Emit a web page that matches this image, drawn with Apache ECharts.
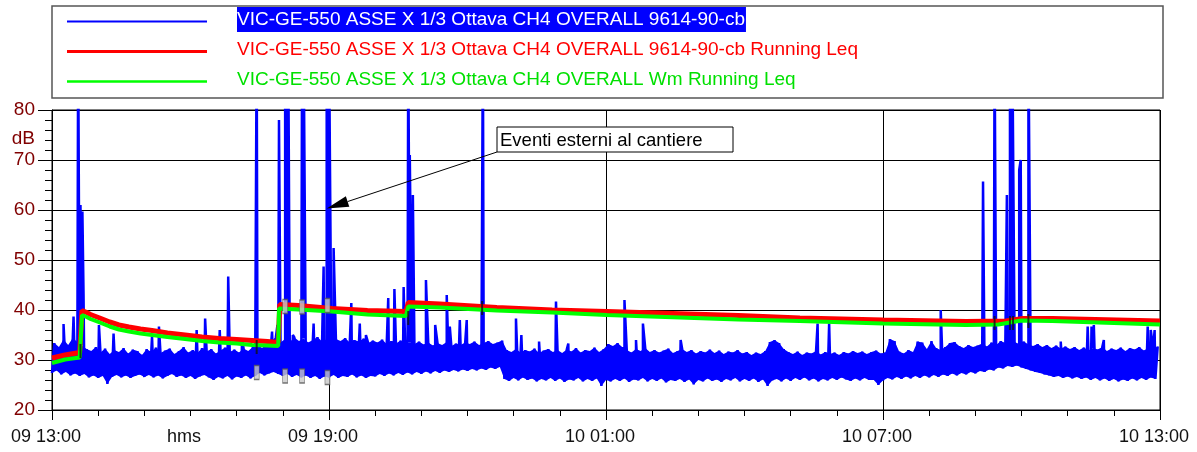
<!DOCTYPE html>
<html><head><meta charset="utf-8">
<script src="https://cdn.jsdelivr.net/npm/echarts@6/dist/echarts.min.js"></script>
<style>html,body{margin:0;padding:0;background:#fff}#c{width:1197px;height:452px}</style>
</head><body><div id="c"></div>
<script>
// ---------------- DATA ----------------
const seriesNames = [
  'VIC-GE-550 ASSE X 1/3 Ottava CH4 OVERALL 9614-90-cb',
  'VIC-GE-550 ASSE X 1/3 Ottava CH4 OVERALL 9614-90-cb Running Leq',
  'VIC-GE-550 ASSE X 1/3 Ottava CH4 OVERALL Wm Running Leq'
];
const xTickLabels = ['09 13:00', '09 19:00', '10 01:00', '10 07:00', '10 13:00'];
const xUnitLabel = 'hms';
const yUnitLabel = 'dB';
const annotationText = 'Eventi esterni al cantiere';
const annotationTarget = [357, 60.3]; // minutes from 09 13:00, dB

// Blue level: minutes from 09 13:00, read in 6-minute buckets (low / high of the noise band)
const bucketMinutes = 6;
const bandHigh = [
  33.4,32.6,34.1,33.0,34.4,33.6,32.9,32.2,31.8,32.6,
  31.5,32.3,31.2,32.0,31.6,32.4,31.3,32.1,31.8,31.0,
  32.2,31.6,32.5,31.4,31.9,32.3,31.2,31.8,32.6,31.5,
  32.0,31.4,32.4,31.7,32.2,31.3,31.9,32.5,31.6,32.1,
  31.5,32.3,31.8,32.6,33.0,32.4,33.2,33.8,34.6,33.5,
  34.2,33.6,34.5,33.8,34.3,33.5,34.0,34.6,33.7,34.1,
  33.6,34.2,33.8,34.4,33.5,34.0,33.7,34.3,33.4,33.9,
  33.5,34.1,33.2,33.8,33.3,33.9,33.0,33.6,33.2,33.7,
  33.1,33.5,32.9,33.4,33.0,33.6,32.8,33.3,33.0,33.5,
  33.2,33.7,33.0,33.4,33.8,33.2,33.5,33.9,32.0,31.6,
  32.2,31.5,32.0,31.7,32.3,31.4,31.9,32.2,31.6,32.0,
  31.4,32.1,31.7,32.4,31.5,32.0,31.8,32.5,31.6,32.2,
  33.2,32.8,33.4,32.6,32.0,31.5,32.2,31.8,32.4,31.6,
  32.0,31.5,31.9,32.3,31.4,31.8,32.2,31.6,32.0,31.3,
  31.8,31.5,32.1,31.4,31.9,31.2,31.7,31.5,32.0,31.3,
  31.6,31.0,31.5,31.2,31.8,33.6,34.0,33.4,32.2,31.6,
  31.2,31.7,31.0,31.5,31.3,31.8,31.1,31.6,31.2,31.5,
  31.0,31.6,31.3,31.8,31.4,31.7,31.2,31.6,31.9,31.3,
  31.5,34.2,33.8,31.7,31.3,32.0,31.6,33.7,33.5,32.2,
  33.8,32.4,32.0,32.6,33.4,33.6,32.8,32.4,33.0,32.6,
  32.9,33.3,32.7,33.5,33.0,33.8,33.4,34.0,33.6,33.2,
  33.7,33.1,32.8,33.2,32.6,33.0,32.4,32.9,32.3,32.7,
  32.2,32.6,32.0,32.5,31.9,32.4,32.1,32.6,31.8,32.3,
  32.0,32.5,31.8,32.4,32.1,32.6,31.9,32.4,32.2,32.7
];
const bandLow = [
  27.4,27.9,27.1,27.6,26.9,27.3,26.8,27.2,26.5,26.9,
  26.4,26.8,25.2,26.6,27.0,26.5,26.9,26.4,26.8,27.1,
  26.6,27.0,26.5,26.9,26.3,26.8,27.2,26.6,26.9,26.4,
  26.8,26.2,26.7,27.0,26.5,26.0,26.6,26.3,26.8,26.1,
  26.7,26.4,26.9,26.3,26.8,27.4,26.9,27.3,27.6,27.2,
  26.8,27.2,26.6,27.0,26.5,26.9,26.4,26.8,26.2,26.7,
  26.5,27.0,26.4,26.8,26.6,27.1,26.5,26.9,26.4,26.8,
  26.7,27.2,26.8,27.3,26.9,27.4,27.0,27.5,27.1,27.6,
  27.2,27.7,27.3,27.8,27.4,27.9,27.6,28.0,27.7,28.1,
  27.8,28.2,27.9,28.3,28.0,28.5,28.2,28.6,26.2,25.8,
  26.4,25.9,26.5,26.0,26.3,25.7,26.2,25.9,26.4,25.8,
  26.3,25.6,26.1,25.9,26.4,25.7,26.2,25.8,26.3,24.8,
  26.0,25.7,26.2,25.8,26.3,25.6,26.1,25.9,26.4,25.7,
  26.2,25.8,26.3,25.5,26.0,25.8,26.2,25.6,26.1,25.1,
  26.0,25.7,26.3,25.8,26.1,25.6,26.2,25.9,26.4,25.7,
  26.2,25.8,26.3,25.6,26.1,24.8,25.9,26.2,25.7,26.3,
  25.8,26.4,26.0,26.5,25.9,26.3,25.7,26.2,25.9,26.4,
  26.0,26.5,26.1,25.8,26.3,25.9,26.4,26.0,26.0,25.0,
  25.9,26.4,26.1,26.6,26.2,26.7,26.3,26.8,26.4,26.9,
  26.5,27.0,26.6,27.1,26.8,27.3,26.9,27.4,27.1,27.6,
  27.3,27.8,27.6,28.1,27.9,28.5,28.3,28.8,28.6,28.9,
  28.5,28.2,27.9,27.6,27.4,27.1,26.9,26.6,26.8,26.4,
  26.7,26.3,26.6,26.2,26.5,26.0,26.4,25.9,26.3,25.8,
  26.2,25.7,26.1,25.8,26.3,25.9,26.4,26.0,26.5,26.2
];
// Isolated peaks of the blue level (minutes from 09 13:00, dB); values above 80 run off the top
const spikeTimes = [15,28,34,37,39.5,41,61,62,80,130,139,188,199,218,229,247,266,286,293,295,303,305,307,313,325,327,340,353,357,360,366,389,400,408,437,445,457,463,465,469,486,498,513,517,530,539,560,603,610,633,655,671,744,759,768,817,995,1010,1155,1210,1225,1241,1245,1248,1257,1259,1269,1311,1346,1351,1354,1367,1424,1428,1433];
const spikeValues = [37.2,38.7,95,61,59.7,43,37,36.7,35.3,34.7,36.7,36,38.3,36,46.7,34.3,95,35.7,37,78,95,62,95,35,95,95,37.3,48.7,95,95,52.4,41.4,37.3,35,42.4,44.2,44.6,95,71,63,46,37,43,36.7,38,38,95,38.3,35,33.7,41.7,33.3,42,34,37.3,34,37.3,37.3,40,65.7,95,63,95,95,68,70,95,33.7,36.7,36.7,37,34,36.7,36,36];

// Running Leq (minutes from 09 13:00, dB)
const redTimes   = [0,17,36,39,45,50,62,75,87,100,115,130,150,173,195,217,240,260,280,294,296,320,364,410,460,463,504,578,650,721,892,972,1080,1188,1240,1262,1300,1440];
const redValues  = [30.4,31.0,31.5,39.9,39.5,39.1,38.4,37.6,37.0,36.6,36.2,35.9,35.4,35.0,34.6,34.3,34.1,33.9,33.7,33.5,41.1,40.9,40.3,39.9,39.7,41.5,41.2,40.5,40.0,39.7,38.9,38.4,38.0,37.7,37.8,38.3,38.3,37.8];
const greenTimes = [0,17,36,39,45,50,62,75,87,100,115,130,150,173,195,217,240,260,280,294,295,320,364,410,460,463,504,578,650,721,892,972,1080,1188,1230,1260,1300,1440];
const greenValues= [29.4,30.1,30.5,39.0,38.6,38.2,37.5,36.7,36.1,35.7,35.3,35.0,34.6,34.2,33.8,33.5,33.3,33.0,32.9,32.8,40.3,40.1,39.7,39.1,38.8,40.7,40.5,39.9,39.5,39.0,38.1,37.8,37.3,37.0,37.1,37.9,37.8,37.1];

// Event markers drawn on the Leq traces (minutes, dB)
const eventBarTimes  = [37, 266, 463, 559, 1225, 1245, 1249, 1269];
const eventBarLevels = [31.8, 32.6, 38.4, 40.4, 37.4, 37.4, 37.4, 37.8];
const eventBoxTimes  = [303, 325, 358, 266, 303, 325, 358];
const eventBoxLevels = [40.7, 40.6, 40.9, 27.5, 26.8, 26.8, 26.5];

// ---------------- BUILD ----------------
const bluePts = [];
for (let i = 0; i < bandLow.length; i++) {
  bluePts.push([i * bucketMinutes, bandLow[i]]);
  bluePts.push([i * bucketMinutes + bucketMinutes / 2, bandHigh[i]]);
}
for (let k = 0; k < spikeTimes.length; k++) bluePts.push([spikeTimes[k], spikeValues[k]]);
bluePts.sort((a, b) => a[0] - b[0]);
const zip = (t, v) => t.map((x, i) => [x, v[i]]);

const FONT = '"Liberation Sans", Arial, Helvetica, sans-serif';
const colors = ['#0000ff', '#ff0000', '#00ff00'];
const legendText = ['#ffffff', '#ff0000', '#00e000'];

function renderBand(params, api) {
  if (params.dataIndex > 0) return null;
  const pts = [];
  for (let i = 0; i < bandHigh.length; i++) pts.push(api.coord([i * bucketMinutes + bucketMinutes / 2, bandHigh[i]]));
  for (let i = bandLow.length - 1; i >= 0; i--) pts.push(api.coord([i * bucketMinutes, bandLow[i]]));
  return {type: 'polygon', shape: {points: pts}, style: {fill: colors[0], stroke: null}};
}

const chart = echarts.init(document.getElementById('c'), null, {renderer: 'canvas'});
chart.setOption({
  animation: false,
  backgroundColor: '#fff',
  grid: {left: 52, right: 37, top: 110, bottom: 42, show: true, borderColor: '#000', borderWidth: 1, backgroundColor: 'transparent'},
  xAxis: {
    type: 'value', min: 0, max: 1440, interval: 360,
    axisLine: {onZero: false, lineStyle: {color: '#000', width: 1}},
    axisTick: {length: 10, lineStyle: {color: '#000'}},
    minorTick: {show: true, splitNumber: 6, length: 6, lineStyle: {color: '#000'}},
    splitLine: {show: true, lineStyle: {color: '#000', width: 1}},
    axisLabel: {
      margin: 18, color: '#111', fontSize: 18, fontFamily: FONT, padding: [0, 12, 0, 0],
      formatter: v => xTickLabels[Math.round(v / 360)]
    }
  },
  yAxis: {
    type: 'value', min: 20, max: 80, interval: 10,
    axisLine: {show: true, lineStyle: {color: '#000', width: 1}},
    axisTick: {show: true, length: 14, lineStyle: {color: '#000'}},
    minorTick: {show: true, splitNumber: 5, length: 7, lineStyle: {color: '#000'}},
    splitLine: {show: true, lineStyle: {color: '#000', width: 1}},
    axisLabel: {margin: 17, color: '#800000', fontSize: 19, fontFamily: FONT}
  },
  series: [
    {name: 'band', type: 'custom', renderItem: renderBand, data: [[0, 30]], encode: {x: 0, y: 1}, z: 1, silent: true},
    {name: seriesNames[0], type: 'line', data: bluePts, symbol: 'none', sampling: null,
     lineStyle: {color: colors[0], width: 2.5}, z: 2, clip: true},
    {name: seriesNames[1], type: 'line', data: zip(redTimes, redValues), symbol: 'none',
     lineStyle: {color: colors[1], width: 5}, z: 3, clip: true},
    {name: seriesNames[2], type: 'line', data: zip(greenTimes, greenValues), symbol: 'none',
     lineStyle: {color: colors[2], width: 4}, z: 4, clip: true},
    {name: 'events', type: 'scatter', data: zip(eventBarTimes, eventBarLevels), symbol: 'rect',
     symbolSize: [2, 14], itemStyle: {color: '#111'}, z: 5, silent: true},
    {name: 'event-boxes', type: 'scatter', data: zip(eventBoxTimes, eventBoxLevels), symbol: 'rect',
     symbolSize: [5, 14], itemStyle: {color: '#c8c8c8', borderColor: '#555', borderWidth: 1}, z: 5, silent: true}
  ]
});

// ------------- legend, unit labels, annotation -------------
const g = [];
g.push({type: 'rect', shape: {x: 52, y: 6, width: 1111, height: 92}, style: {fill: '#fff', stroke: '#555', lineWidth: 1.5}, z: 10});
const lw = [2, 3, 2.5];
seriesNames.forEach((n, k) => {
  const cy = 21.5 + 30 * k;
  g.push({type: 'line', shape: {x1: 67, y1: cy, x2: 207, y2: cy}, style: {stroke: colors[k], lineWidth: lw[k]}, z: 11});
  const st = {text: n, x: 237, y: cy - 2, fill: legendText[k], font: '19px ' + FONT, verticalAlign: 'middle'};
  if (k === 0) { st.backgroundColor = '#0000ff'; st.padding = [3, 1, 3, 0]; }
  g.push({type: 'text', style: st, z: 12});
});
g.push({type: 'text', style: {text: yUnitLabel, x: 35, y: 139, align: 'right', verticalAlign: 'middle', fill: '#800000', font: '19px ' + FONT}, z: 10});
g.push({type: 'text', style: {text: xUnitLabel, x: 184, y: 437, align: 'center', verticalAlign: 'middle', fill: '#111', font: '18px ' + FONT}, z: 10});

// annotation box + arrow
const tip = chart.convertToPixel({gridIndex: 0}, annotationTarget);
const box = {x: 497, y: 127, w: 236, h: 25};
g.push({type: 'rect', shape: {x: box.x, y: box.y, width: box.w, height: box.h}, style: {fill: '#fff', stroke: '#000', lineWidth: 1}, z: 10});
g.push({type: 'text', style: {text: annotationText, x: box.x + 3, y: box.y + box.h / 2 + 1, verticalAlign: 'middle', fill: '#000', font: '18.5px ' + FONT}, z: 11});
const sx = box.x, sy = box.y + box.h;
const dx = tip[0] - sx, dy = tip[1] - sy, L = Math.hypot(dx, dy);
const ux = dx / L, uy = dy / L, px = -uy, py = ux;
const HL = 22, HW = 5.5;
const bx = tip[0] - ux * HL, by = tip[1] - uy * HL;
g.push({type: 'line', shape: {x1: sx, y1: sy, x2: bx, y2: by}, style: {stroke: '#000', lineWidth: 1}, z: 10});
g.push({type: 'polygon', shape: {points: [[tip[0], tip[1]], [bx + px * HW, by + py * HW], [bx - px * HW, by - py * HW]]}, style: {fill: '#000'}, z: 10});
chart.setOption({graphic: g});
</script>
</body></html>
